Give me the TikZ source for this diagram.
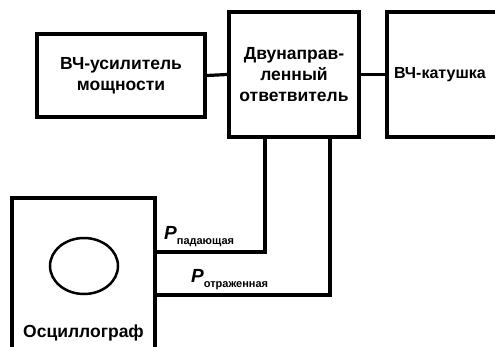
\documentclass[tikz,border=0pt]{standalone}
\usepackage{fontspec}
\setmainfont{Liberation Sans}
\usetikzlibrary{positioning, calc}
\newcommand{\psub}[1]{\raisebox{-5pt}{\fontsize{11}{11}\selectfont\bfseries\upshape #1}}

\begin{document}
\begin{tikzpicture}[x=1pt, y=-1pt, font=\fontsize{17.5}{21}\selectfont\bfseries,
    blk/.style={rectangle, draw, line width=3.5pt, align=center, inner sep=2pt},
    wire/.style={line width=3.2pt},
    plbl/.style={anchor=base west, inner sep=0pt, font=\fontsize{19}{19}\selectfont\bfseries\itshape},
  ]
    \useasboundingbox (0,0) rectangle (495,346);
    \clip (0,0) rectangle (495,346);

    \node[blk, minimum width=168, minimum height=83] (amp) at (121,75.5) {ВЧ-усилитель\\мощности};
    \node[blk, minimum width=130, minimum height=125] (cpl) at (294,74.5) {Двунаправ-\\ленный\\ответвитель};
    \node[blk, minimum width=130, minimum height=125, text width=116, align=left,
      font=\fontsize{16}{21}\selectfont\bfseries] (coil) at (452,74.5) {ВЧ-катушка};
    \node[blk, minimum width=143, minimum height=170] (osc) at (83.5,283) {};
    \node (osctxt) at (83.5,333) {Осциллограф};
    \draw[line width=2.5pt] (84,266) ellipse [x radius=34, y radius=28];

    \coordinate (fwd) at (265,252);
    \coordinate (rfl) at (330,295);

    \foreach \a/\b in {amp/cpl, cpl/coil} {
      \draw[wire] (\a.east) -- (\b.west);
    }
    \draw[wire] (cpl.south -| fwd) |- (osc.east |- fwd);
    \draw[wire] (cpl.south -| rfl) |- (osc.east |- rfl);

    \node[plbl] (pfwd) at (164,239) {P\psub{падающая}};
    \node[plbl] (prfl) at (191,282) {P\psub{отраженная}};
\end{tikzpicture}
\end{document}
